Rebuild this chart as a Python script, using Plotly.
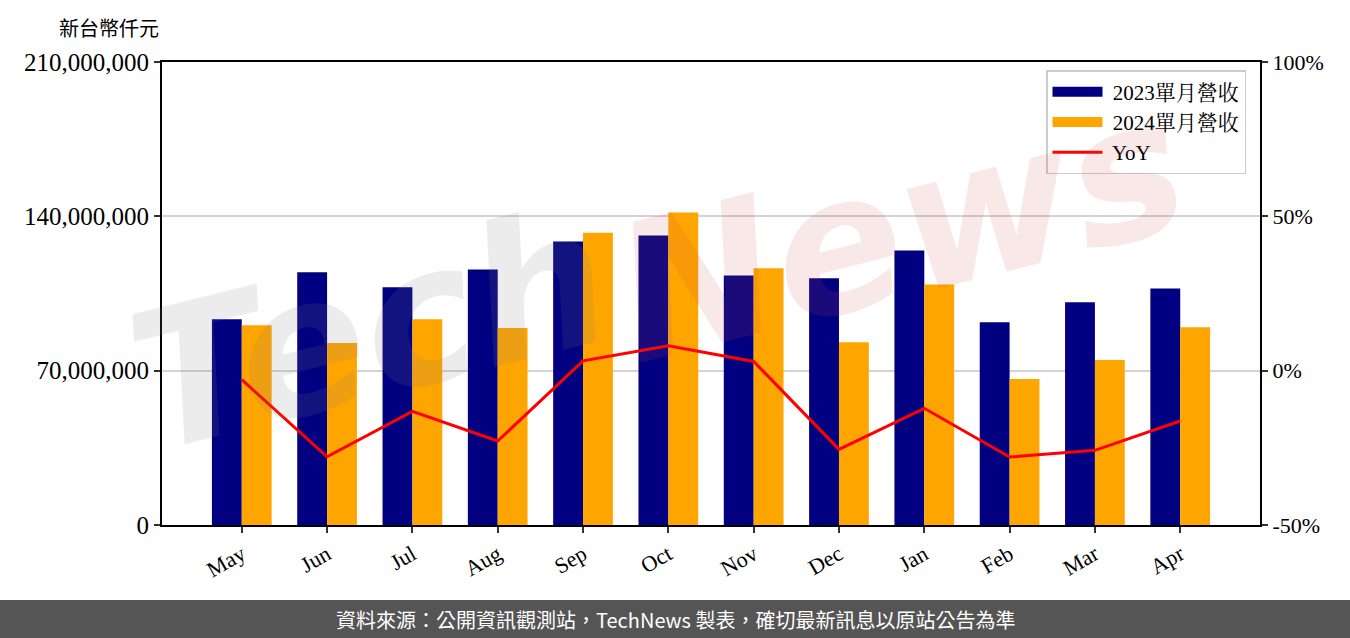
import plotly.graph_objects as go

months = ["May", "Jun", "Jul", "Aug", "Sep", "Oct", "Nov", "Dec", "Jan", "Feb", "Mar", "Apr"]
rev_2023 = [93.3e6, 114.6e6, 107.8e6, 115.9e6, 128.6e6, 131.3e6, 113.2e6, 111.9e6, 124.5e6, 92.0e6, 101.0e6, 107.3e6]
rev_2024 = [90.6e6, 82.5e6, 93.3e6, 89.3e6, 132.6e6, 141.7e6, 116.4e6, 82.9e6, 109.1e6, 66.2e6, 74.8e6, 89.7e6]
yoy = [-2.9, -27.9, -13.2, -22.8, 3.2, 8.1, 3.0, -25.5, -12.2, -28.0, -25.8, -16.3]

left_ticks = [0, 70e6, 140e6, 210e6]
left_labels = ["0", "70,000,000", "140,000,000", "210,000,000"]
right_ticks = [-50, 0, 50, 100]
right_labels = ["-50%", "0%", "50%", "100%"]

W, H = 1350, 638
L, R, T, B = 162, 90, 62, 113
PW, PH = W - L - R, H - T - B

def px(x):
    return (x - L) / PW

def py(y):
    return (H - B - y) / PH

serif = "Liberation Serif, Noto Serif CJK TC, Noto Sans CJK TC, serif"
NAVY, ORANGE = "#000080", "#FFA500"

fig = go.Figure()
fig.add_trace(go.Bar(x=months, y=rev_2023, name="2023單月營收", marker_color=NAVY,
                     marker_line_width=0, showlegend=False))
fig.add_trace(go.Bar(x=months, y=rev_2024, name="2024單月營收", marker_color=ORANGE,
                     marker_line_width=0, showlegend=False))
fig.add_trace(go.Scatter(x=months, y=yoy, name="YoY", mode="lines",
                         line=dict(color="#FF0000", width=3), yaxis="y2", showlegend=False))
# legend-only entries (wide patches like the reference)
fig.add_trace(go.Scatter(x=[None], y=[None], name=" 2023單月營收", mode="lines",
                         line=dict(color=NAVY, width=16)))
fig.add_trace(go.Scatter(x=[None], y=[None], name=" 2024單月營收", mode="lines",
                         line=dict(color=ORANGE, width=16)))
fig.add_trace(go.Scatter(x=[None], y=[None], name=" YoY", mode="lines",
                         line=dict(color="#FF0000", width=3)))

fig.update_layout(
    width=W, height=H,
    margin=dict(l=L, r=R, t=T, b=B, pad=0),
    paper_bgcolor="white", plot_bgcolor="white",
    barmode="group", bargap=0.3, bargroupgap=0,
    font=dict(family=serif, size=20, color="black"),
    xaxis=dict(type="category", range=[-0.935, 11.935], tickangle=-30,
               showline=True, linecolor="black", linewidth=2, mirror=True,
               ticks="outside", ticklen=6, tickwidth=2, tickcolor="#333",
               tickfont=dict(family=serif, size=22), showgrid=False),
    yaxis=dict(range=[0, 210e6], tickvals=left_ticks, ticktext=left_labels,
               showline=True, linecolor="black", linewidth=2,
               ticks="outside", ticklen=6, tickwidth=2, tickcolor="#333",
               tickfont=dict(family=serif, size=25),
               showgrid=True, gridcolor="#d3d3d3", gridwidth=2, zeroline=False),
    yaxis2=dict(range=[-50, 100], tickvals=right_ticks, ticktext=right_labels,
                overlaying="y", side="right", showline=True, linecolor="black",
                linewidth=2, ticks="outside", ticklen=6, tickwidth=2, tickcolor="#333",
                tickfont=dict(family=serif, size=22), showgrid=False, zeroline=False),
    legend=dict(x=px(1246), y=py(70), xanchor="right", yanchor="top",
                bgcolor="rgba(255,255,255,0.85)", bordercolor="#cccccc", borderwidth=1.5,
                font=dict(family=serif, size=21), itemwidth=50, tracegroupgap=2),
    showlegend=True,
)

# watermark
fig.add_annotation(x=px(370), y=py(330), xref="paper", yref="paper", text="<i><b>Tech</b></i>",
                   showarrow=False, textangle=-14, xanchor="center", yanchor="middle",
                   font=dict(family="DejaVu Sans", size=190, color="rgba(128,128,128,0.15)"))
fig.add_annotation(x=px(900), y=py(230), xref="paper", yref="paper", text="<i><b>News</b></i>",
                   showarrow=False, textangle=-14, xanchor="center", yanchor="middle",
                   font=dict(family="DejaVu Sans", size=190, color="rgba(210,80,80,0.13)"))

# unit title
fig.add_annotation(x=px(109), y=py(27), xref="paper", yref="paper", text="新台幣仟元",
                   showarrow=False, xanchor="center", yanchor="middle",
                   font=dict(family="Noto Sans CJK TC", size=20, color="black"))

# footer band
fig.add_shape(type="rect", xref="paper", yref="paper", x0=px(0), x1=px(1350), y0=py(640), y1=py(600),
              fillcolor="#555555", line_width=0, layer="above")
fig.add_annotation(x=px(675), y=py(619), xref="paper", yref="paper",
                   text="資料來源：公開資訊觀測站，TechNews 製表，確切最新訊息以原站公告為準",
                   showarrow=False, xanchor="center", yanchor="middle",
                   font=dict(family="Noto Sans CJK TC", size=20, color="white"))

fig.write_html("out.html", config={"displayModeBar": False},
               post_script="document.body.style.margin='0';document.body.style.overflow='hidden';")
